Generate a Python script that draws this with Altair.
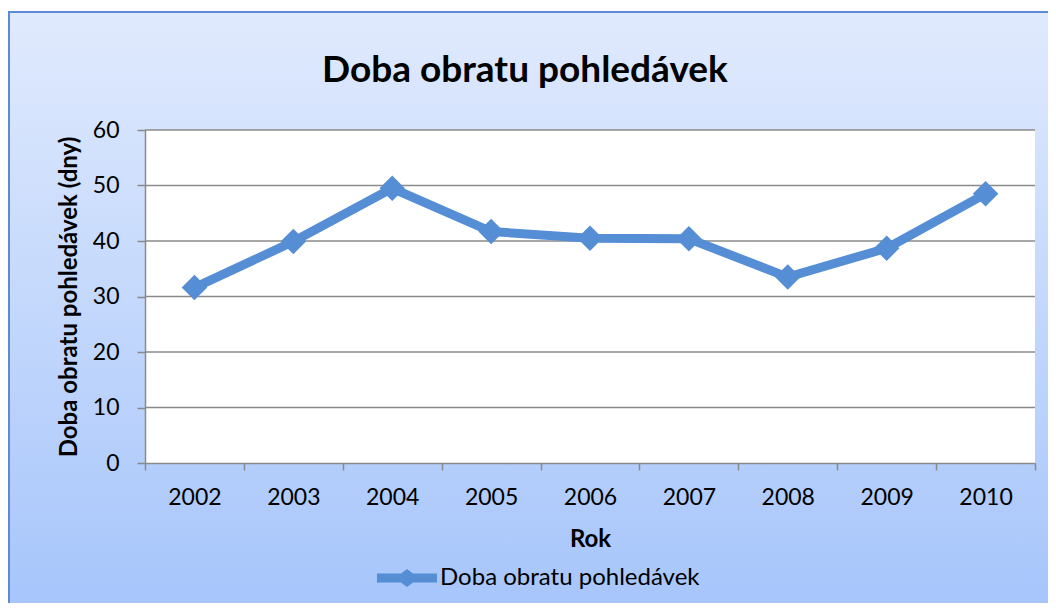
import altair as alt
import pandas as pd

years = ["2002", "2003", "2004", "2005", "2006", "2007", "2008", "2009", "2010"]
values = [31.6, 39.9, 49.5, 41.7, 40.5, 40.4, 33.5, 38.7, 48.5]
series_name = "Doba obratu pohledávek"
y_ticks = [0, 10, 20, 30, 40, 50, 60]

df = pd.DataFrame({"Rok": years, "Hodnota": values, "Serie": [series_name] * len(years)})
grid_df = pd.DataFrame({"Hodnota": y_ticks[1:]})

W, H = 890, 333
FONT = "Lato"
BLUE = "#558ED5"
GRAY = "#8a8a8a"

yscale = alt.Scale(domain=[0, 60], nice=False, zero=True)
xscale = alt.Scale(type="band", paddingInner=0, paddingOuter=0)

y_axis = alt.Axis(
    title="Doba obratu pohledávek (dny)", values=y_ticks, grid=False,
    domainColor=GRAY, domainWidth=1.5, tickColor=GRAY, tickWidth=1.5, tickSize=8,
    labelFont=FONT, labelFontSize=23, labelColor="black", labelPadding=18,
    titleFont=FONT, titleFontSize=24, titleFontWeight="bold", titleColor="black",
    titlePadding=11, zindex=1)
x_axis = alt.Axis(
    title="Rok", tickBand="extent", labelAngle=0, grid=False,
    domainColor=GRAY, domainWidth=1.5, tickColor=GRAY, tickWidth=1.5, tickSize=7,
    labelFont=FONT, labelFontSize=23, labelColor="black", labelPadding=16,
    titleFont=FONT, titleFontSize=24, titleFontWeight="bold", titleColor="black",
    titlePadding=18, zindex=1)

bg = alt.Chart(alt.Data(values=[{}])).mark_rect(
    fill=alt.Gradient(
        gradient="linear",
        stops=[alt.GradientStop(color="#e0eafd", offset=0),
               alt.GradientStop(color="#a6c5fb", offset=1)],
        x1=0, x2=0, y1=0, y2=1),
    stroke="#5b8bd6", strokeWidth=2,
).encode(x=alt.value(-136), x2=alt.value(W + 40), y=alt.value(-118), y2=alt.value(H + 150))

plot_bg = alt.Chart(alt.Data(values=[{}])).mark_rect(fill="white").encode(
    x=alt.value(0), x2=alt.value(W), y=alt.value(0), y2=alt.value(H))

grid = alt.Chart(grid_df).mark_rule(color=GRAY, strokeWidth=1.5).encode(
    y=alt.Y("Hodnota:Q", scale=yscale, axis=y_axis))

line = alt.Chart(df).mark_line(color=BLUE, strokeWidth=9).encode(
    x=alt.X("Rok:N", scale=xscale, axis=x_axis),
    y=alt.Y("Hodnota:Q", scale=yscale, axis=y_axis))

LEG_PATH = ("M-1,-0.15L-0.2,-0.15L0,-0.3L0.2,-0.15L1,-0.15L1,0.15"
            "L0.2,0.15L0,0.3L-0.2,0.15L-1,0.15Z")

points = alt.Chart(df).mark_point(filled=True, shape="diamond", size=650, opacity=1).encode(
    x=alt.X("Rok:N", scale=xscale, axis=x_axis),
    y=alt.Y("Hodnota:Q", scale=yscale, axis=y_axis),
    color=alt.Color("Serie:N", scale=alt.Scale(range=[BLUE]), legend=alt.Legend(
        title=None, orient="none", legendX=232, legendY=418, padding=0,
        symbolType=LEG_PATH, symbolSize=3600, symbolStrokeWidth=0, symbolOpacity=1,
        labelFont=FONT, labelFontSize=24, labelColor="black", labelOffset=3,
        labelLimit=500, zindex=1)),
)

chart = alt.layer(bg, plot_bg, grid, line, points).properties(
    width=W, height=H,
    padding={"left": 137, "top": 122, "right": 13, "bottom": 140},
    autosize=alt.AutoSizeParams(type="none"),
    background="white",
    title=alt.Title(text="Doba obratu pohledávek", font=FONT, fontSize=37, fontWeight="bold",
                    color="black", anchor="middle", dx=-65, offset=-79),
).configure_view(stroke=None)

chart.save("out.html", embed_options={"renderer": "svg", "actions": False})
